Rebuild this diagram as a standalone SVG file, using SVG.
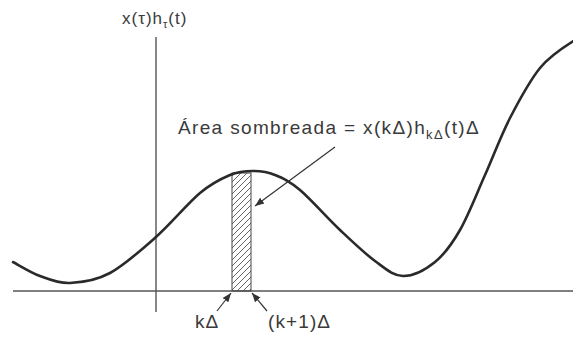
<svg xmlns="http://www.w3.org/2000/svg" width="573" height="339" viewBox="0 0 573 339">
<style>
.axis{stroke:#555;stroke-width:1.4;fill:none}
.curve{stroke:#2a2a2a;stroke-width:2.6;fill:none;stroke-linecap:round;stroke-linejoin:round}
.lead{stroke:#333;stroke-width:1.2;fill:none}
.lbl{font-family:"Liberation Sans",Arial,sans-serif;font-size:19px;fill:#3a3a3a;letter-spacing:1.1px}
</style>
<defs>
<pattern id="hatch" patternUnits="userSpaceOnUse" width="6" height="6">
<path d="M-1,1 L1,-1 M0,6 L6,0 M5,7 L7,5" stroke="#555" stroke-width="0.9"/>
</pattern>
<marker id="ah" viewBox="0 0 10 10" refX="10" refY="5" markerWidth="9" markerHeight="9" markerUnits="userSpaceOnUse" orient="auto">
<path d="M0,1 L10,5 L0,9 Z" fill="#333"/>
</marker>
</defs>
<g id="axes">
<line class="axis" x1="13" y1="291" x2="573" y2="291"/>
<line class="axis" x1="156" y1="37" x2="156" y2="312"/>
</g>
<g id="strip">
<rect x="232" y="173" width="19" height="118" fill="url(#hatch)" stroke="#444" stroke-width="1"/>
</g>
<g id="signal">
<path class="curve" d="M13,262 C17.5,264.3 30.5,272.5 40,276 C49.5,279.5 58.3,283.5 70,283 C81.7,282.5 95.7,280.7 110,273 C124.3,265.3 141,250.3 156,237 C171,223.7 187.7,203.3 200,193 C212.3,182.7 221.2,178.7 230,175 C238.8,171.3 245.5,171 253,171 C260.5,171 267.2,171.8 275,175 C282.8,178.2 289.2,180.8 300,190 C310.8,199.2 327.5,218.2 340,230 C352.5,241.8 364.5,253.3 375,261 C385.5,268.7 393,275.8 403,276 C413,276.2 425.5,269.7 435,262 C444.5,254.3 451.7,244.5 460,230 C468.3,215.5 476.7,193.7 485,175 C493.3,156.3 500.8,135.8 510,118 C519.2,100.2 529.5,81 540,68 C550.5,55 567.5,44.7 575,40"/>
</g>
<g id="connectors">
<line class="lead" x1="335" y1="147" x2="255" y2="206" marker-end="url(#ah)"/>
<line class="lead" x1="217" y1="311" x2="231" y2="293" marker-end="url(#ah)"/>
<line class="lead" x1="267" y1="311" x2="252" y2="293" marker-end="url(#ah)"/>
</g>
<g id="labels">
<text class="lbl" x="122" y="24" style="font-size:17px;letter-spacing:1px">x(τ)h<tspan font-size="11" dy="4">τ</tspan><tspan dy="-4">(t)</tspan></text>
<text class="lbl" x="178" y="134" style="letter-spacing:1.35px">Área sombreada = x(kΔ)h<tspan font-size="13" dy="5">kΔ</tspan><tspan dy="-5">(t)Δ</tspan></text>
<text class="lbl" x="195" y="328">kΔ</text>
<text class="lbl" x="268" y="328">(k+1)Δ</text>
</g>
</svg>
